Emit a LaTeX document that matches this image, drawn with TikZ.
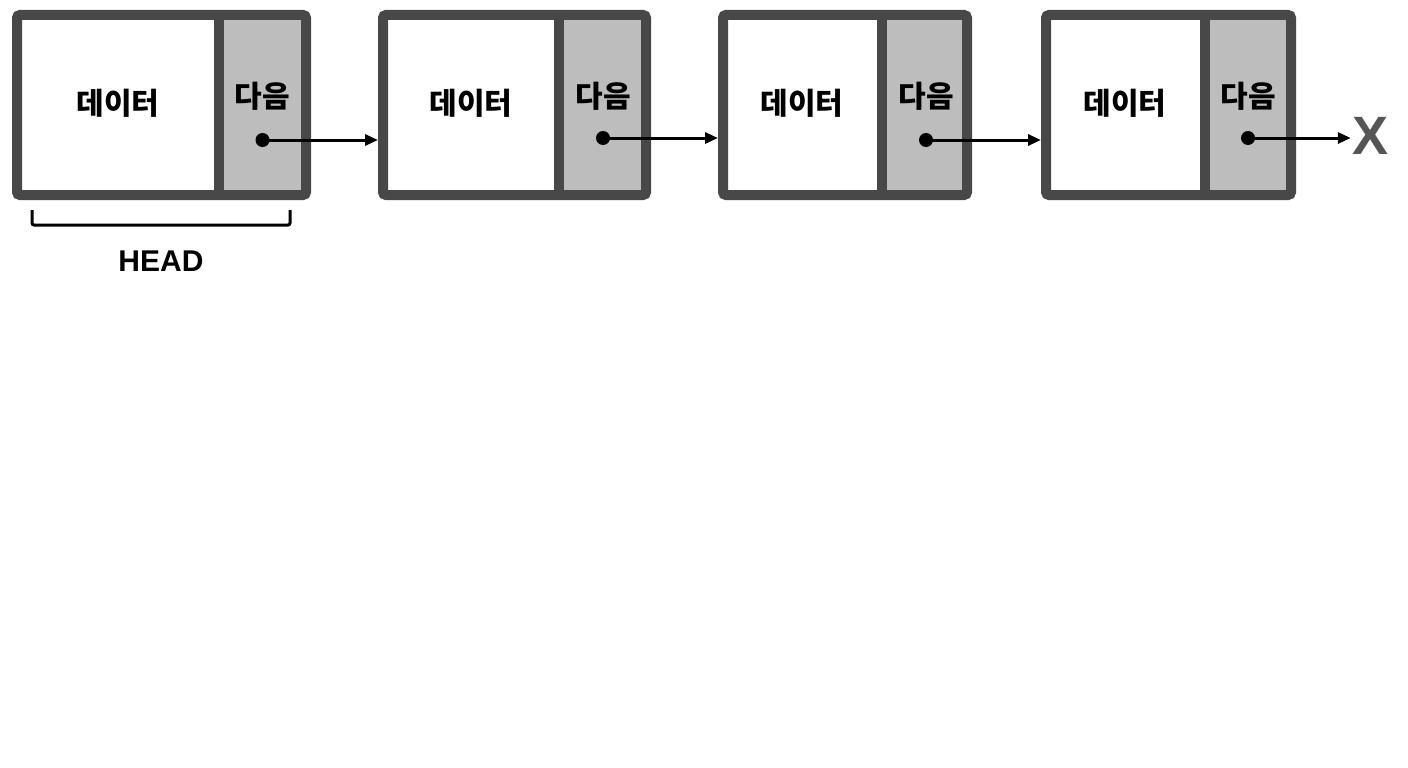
\documentclass[tikz,border=0pt]{standalone}
\usepackage{fontspec}
\newfontfamily\kr{Noto Sans CJK KR}
\newfontfamily\lat{Liberation Sans}
\usetikzlibrary{arrows.meta}
\definecolor{border}{HTML}{484848}
\definecolor{cellgray}{HTML}{BDBDBD}
\definecolor{xgray}{HTML}{555555}
\tikzset{
  box/.style={draw=border, line width=10pt, fill=white, rounded corners=3pt, inner sep=0pt, outer sep=5pt, minimum height=180pt},
  divider/.style={draw=border, line width=10pt},
  datatext/.style={font=\kr\bfseries\fontsize{30}{34}\selectfont, inner sep=0pt},
  nexttext/.style={font=\kr\bfseries\fontsize{30}{34}\selectfont, inner sep=0pt},
  ptr/.style={line width=3pt, -{Triangle[length=13pt,width=11pt]}},
  dotstyle/.style={circle, fill=black, inner sep=0pt, minimum size=14pt},
}
\begin{document}
\begin{tikzpicture}[x=1pt,y=-1pt]
\useasboundingbox[fill=white] (0,0) rectangle (1408,768);
% node 1
\node[box, minimum width=289pt] (n1) at (161.5,105) {};
\fill[cellgray] (219,20) rectangle (301,190);
\draw[divider] (219,15) -- (219,195);
\node[datatext] (t1) at (118,103) {데이터};
\node[nexttext] (s1) at (262.5,96) {다음};
\node[dotstyle] (d1) at (262.5,140) {};
% node 2
\node[box, minimum width=263pt] (n2) at (514.5,105) {};
\fill[cellgray] (558.5,20) rectangle (641,190);
\draw[divider] (558.5,15) -- (558.5,195);
\node[datatext] (t2) at (471,103) {데이터};
\node[nexttext] (s2) at (603,96) {다음};
\node[dotstyle] (d2) at (603,138) {};
% node 3
\node[box, minimum width=244pt] (n3) at (845,105) {};
\fill[cellgray] (881.5,20) rectangle (962,190);
\draw[divider] (881.5,15) -- (881.5,195);
\node[datatext] (t3) at (802,103) {데이터};
\node[nexttext] (s3) at (926,96) {다음};
\node[dotstyle] (d3) at (926,140) {};
% node 4
\node[box, minimum width=245pt] (n4) at (1168.5,105) {};
\fill[cellgray] (1204.5,20) rectangle (1286,190);
\draw[divider] (1204.5,15) -- (1204.5,195);
\node[datatext] (t4) at (1125,103) {데이터};
\node[nexttext] (s4) at (1248,96) {다음};
\node[dotstyle] (d4) at (1248,138) {};
% X
\node[font=\lat\bfseries\fontsize{54}{60}\selectfont, text=xgray, inner sep=0pt] (x) at (1370,136) {X};
% pointers
\draw[ptr] (d1.center) -- (n2.west |- d1);
\draw[ptr] (d2.center) -- (n3.west |- d2);
\draw[ptr] (d3.center) -- (n4.west |- d3);
\draw[ptr] (d4.center) -- ([xshift=-1pt]x.west |- d4);
% HEAD bracket
\coordinate (h1) at (32,210);
\coordinate (h2) at (290,210);
\draw[line width=3pt, rounded corners=2pt] (h1) -- ++(0,15) -- (290,225) -- (h2);
\node[font=\lat\bfseries\fontsize{30}{34}\selectfont, inner sep=0pt] (head) at (161,261) {HEAD};
\end{tikzpicture}
\end{document}
